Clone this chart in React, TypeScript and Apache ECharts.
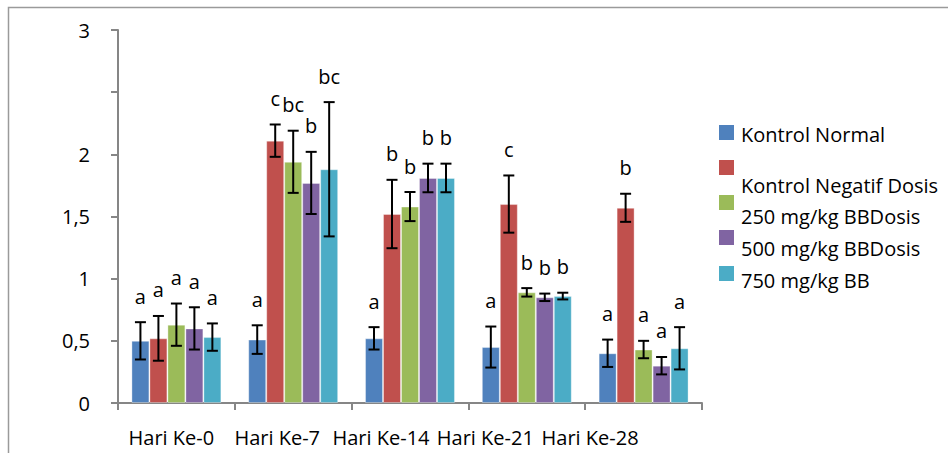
import React, { useEffect, useRef } from "react";
import * as echarts from "echarts";

const categories = ["Hari Ke-0", "Hari Ke-7", "Hari Ke-14", "Hari Ke-21", "Hari Ke-28"];
const seriesNames = ["Kontrol Normal", "Kontrol Negatif", "Dosis 250 mg/kg BB", "Dosis 500 mg/kg BB", "Dosis 750 mg/kg BB"];
const colors = ["#4F81BD", "#C0504D", "#9BBB59", "#8064A2", "#4BACC6"];

const kontrolNormal = [0.5, 0.51, 0.52, 0.45, 0.4];
const kontrolNegatif = [0.52, 2.11, 1.52, 1.6, 1.57];
const dosis250 = [0.63, 1.94, 1.58, 0.89, 0.43];
const dosis500 = [0.6, 1.77, 1.81, 0.85, 0.3];
const dosis750 = [0.53, 1.88, 1.81, 0.86, 0.44];

const errNormal = [0.15, 0.115, 0.09, 0.165, 0.11];
const errNegatif = [0.18, 0.13, 0.275, 0.23, 0.113];
const err250 = [0.17, 0.25, 0.117, 0.034, 0.07];
const err500 = [0.17, 0.25, 0.115, 0.03, 0.07];
const err750 = [0.11, 0.54, 0.115, 0.027, 0.17];

const lettersNormal = ["a", "a", "a", "a", "a"];
const lettersNegatif = ["a", "c", "b", "c", "b"];
const letters250 = ["a", "bc", "b", "b", "a"];
const letters500 = ["a", "b", "b", "b", "a"];
const letters750 = ["a", "bc", "b", "b", "a"];

const legendTexts = ["Kontrol Normal", "Kontrol Negatif Dosis", "250 mg/kg BBDosis", "500 mg/kg BBDosis", "750 mg/kg BB"];

const values = [kontrolNormal, kontrolNegatif, dosis250, dosis500, dosis750];
const errors = [errNormal, errNegatif, err250, err500, err750];
const letters = [lettersNormal, lettersNegatif, letters250, letters500, letters750];

const labelShift = [10, 32, 58, 83, 107];
const FONT = "'Open Sans', sans-serif";
const GAP = 0.23;

export default function App() {
  const ref = useRef<HTMLDivElement>(null);
  useEffect(() => {
    const chart = echarts.init(ref.current!, null, { renderer: "svg" });
    const bars: any[] = values.map((v, i) => ({
      type: "bar",
      name: seriesNames[i],
      data: v,
      barGap: "0%",
      barCategoryGap: GAP * 100 + "%",
      itemStyle: { color: colors[i], borderColor: "rgba(255,255,255,0.35)", borderWidth: 1 },
      z: 2,
    }));
    const errs: any[] = values.map((v, i) => ({
      type: "custom",
      name: seriesNames[i] + " err",
      data: v.map((val, j) => [j, val, errors[i][j], j]),
      z: 5,
      renderItem: (params: any, api: any) => {
        const cat = api.value(0);
        const val = api.value(1);
        const e = api.value(2);
        const idx = api.value(3);
        const band = api.size([1, 0])[0];
        const bw = (band * (1 - GAP)) / 5;
        const c = api.coord([cat, val]);
        const cx = c[0] + (i - 2) * bw;
        const top = api.coord([cat, val + e])[1];
        const bot = api.coord([cat, val - e])[1];
        const cap = 5.5;
        const st = { stroke: "#000", lineWidth: 2 };
        return {
          type: "group",
          children: [
            { type: "line", shape: { x1: cx, y1: top, x2: cx, y2: bot }, style: st },
            { type: "line", shape: { x1: cx - cap, y1: top, x2: cx + cap, y2: top }, style: st },
            { type: "line", shape: { x1: cx - cap, y1: bot, x2: cx + cap, y2: bot }, style: st },
            {
              type: "text",
              x: cx,
              y: top - 26,
              style: { text: letters[i][idx], fill: "#000", font: `20px ${FONT}`, align: "center", verticalAlign: "middle" },
            },
          ],
        };
      },
    }));
    const graphics: any[] = [
      { type: "rect", shape: { x: 8.5, y: 7.5, width: 980, height: 480 }, style: { fill: "none", stroke: "#9a9a9a", lineWidth: 1.5 }, silent: true },
    ];
    const squareY = [125, 160, 195, 230, 266];
    const textY = [134, 185, 216, 248, 280];
    colors.forEach((c, i) => {
      graphics.push({ type: "rect", shape: { x: 719, y: squareY[i], width: 15, height: 15 }, style: { fill: c } });
      graphics.push({
        type: "text",
        x: 741,
        y: textY[i],
        style: { text: legendTexts[i], fill: "#000", font: `20px ${FONT}`, verticalAlign: "middle" },
      });
    });
    chart.setOption({
      animation: false,
      backgroundColor: "#fff",
      grid: { left: 118, top: 30, width: 584, height: 373, containLabel: false },
      xAxis: {
        type: "category",
        data: categories.map((c, i) => ({ value: c, textStyle: { padding: [0, labelShift[i], 0, 0] } })),
        axisLine: { lineStyle: { color: "#868686", width: 2 } },
        axisTick: { show: true, length: 7, lineStyle: { color: "#868686", width: 2 } },
        axisLabel: { interval: 0, color: "#000", fontFamily: FONT, fontSize: 20, margin: 24, hideOverlap: false },
      },
      yAxis: {
        type: "value",
        min: 0,
        max: 3,
        interval: 0.5,
        axisLine: { show: true, lineStyle: { color: "#868686", width: 2 } },
        axisTick: { show: true, length: 7, lineStyle: { color: "#868686", width: 2 } },
        splitLine: { show: false },
        axisLabel: {
          color: "#000",
          fontFamily: FONT,
          fontSize: 20,
          margin: 28,
          formatter: (v: number) => (v === 2.5 ? "" : String(v).replace(".", ",")),
        },
      },
      series: [...bars, ...errs],
      graphic: graphics,
    });
    return () => chart.dispose();
  }, []);
  return <div ref={ref} style={{ position: "fixed", left: 0, top: 0, width: 948, height: 453 }} />;
}
